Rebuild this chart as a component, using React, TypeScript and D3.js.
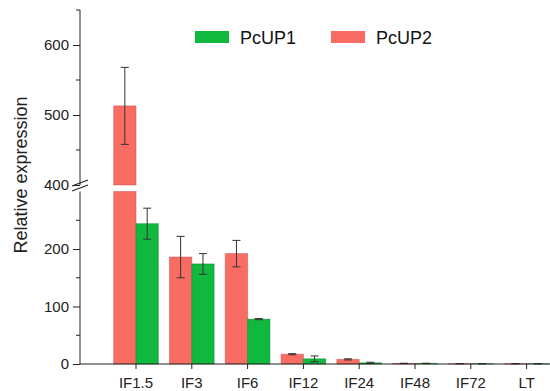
import React, { useEffect, useRef } from 'react';
import * as d3 from 'd3';

const categories = ['IF1.5', 'IF3', 'IF6', 'IF12', 'IF24', 'IF48', 'IF72', 'LT'];
const pcup1 = [244, 174, 78, 9, 2, 1, 0.5, 0.5];
const pcup1Err = [27, 18, 1, 5, 1, 0.3, 0.2, 0.2];
const pcup2 = [513, 186, 192, 17, 8, 1, 0.5, 0.5];
const pcup2Err = [55, 36, 23, 1, 1, 0.3, 0.2, 0.2];
const lowMajor = [0, 100, 200];
const lowMinor = [50, 150, 250];
const highMajor = [400, 500, 600];
const highMinor = [450, 550, 650];

const RED = '#f96c64';
const GREEN = '#10b83e';
const FONT = 'Liberation Sans, Arial, sans-serif';

const App = () => {
  const ref = useRef<SVGSVGElement>(null);

  useEffect(() => {
    const svg = d3.select(ref.current);
    svg.selectAll('*').remove();

    const axisX = 80;
    const x = d3.scaleBand<string>().domain(categories).range([108.1, 554.5]).padding(0);
    const yLow = d3.scaleLinear().domain([0, 300]).range([364, 191.5]);
    const yHigh = d3.scaleLinear().domain([400, 650]).range([185, 10]);
    const yv = (v: number) => (v > 350 ? yHigh(v) : yLow(v));
    const bw = x.bandwidth() * 0.4;

    // y axes (lower + upper segment)
    const drawY = (scale: d3.ScaleLinear<number, number>, major: number[], minor: number[]) => {
      const g = svg.append('g').attr('transform', `translate(${axisX},0)`);
      g.call(d3.axisLeft(scale).tickValues(major).tickSize(7).tickSizeOuter(0).tickPadding(4))
        .call(s => s.select('.domain').remove());
      g.selectAll('text').style('font-family', FONT).style('font-size', '15px').attr('fill', '#222');
      g.selectAll('line').attr('stroke', '#222');
      minor.forEach(m => {
        g.append('line').attr('x1', -4).attr('x2', 0).attr('y1', scale(m)).attr('y2', scale(m)).attr('stroke', '#222');
      });
      g.append('line').attr('x1', 0).attr('x2', 0).attr('y1', scale.range()[0]).attr('y2', scale.range()[1]).attr('stroke', '#222');
    };
    drawY(yLow, lowMajor, lowMinor);
    drawY(yHigh, highMajor, highMinor);

    // break marks
    [0, 5].forEach(o => {
      svg.append('line')
        .attr('x1', axisX - 8).attr('y1', 186 + o)
        .attr('x2', axisX + 8).attr('y2', 180 + o)
        .attr('stroke', '#222').attr('stroke-width', 1.2);
    });

    // bars
    const drawBar = (cx: number, v: number, color: string) => {
      const g = svg.append('g');
      const stroke = d3.color(color)!.darker(0.8).toString();
      if (v > 300) {
        g.append('rect').attr('x', cx).attr('width', bw).attr('y', yLow(300)).attr('height', yLow(0) - yLow(300))
          .attr('fill', color).attr('stroke', stroke).attr('stroke-opacity', 0.5);
        g.append('rect').attr('x', cx).attr('width', bw).attr('y', yHigh(v)).attr('height', yHigh(400) - yHigh(v))
          .attr('fill', color).attr('stroke', stroke).attr('stroke-opacity', 0.5);
      } else {
        g.append('rect').attr('x', cx).attr('width', bw).attr('y', yLow(v)).attr('height', yLow(0) - yLow(v))
          .attr('fill', color).attr('stroke', stroke).attr('stroke-opacity', 0.5);
      }
    };
    const drawErr = (cx: number, v: number, e: number) => {
      const g = svg.append('g').attr('stroke', '#333').attr('stroke-width', 1);
      const t = yv(v + e), b = yv(v - e);
      g.append('line').attr('x1', cx).attr('x2', cx).attr('y1', t).attr('y2', b);
      g.append('line').attr('x1', cx - 4).attr('x2', cx + 4).attr('y1', t).attr('y2', t);
      g.append('line').attr('x1', cx - 4).attr('x2', cx + 4).attr('y1', b).attr('y2', b);
    };
    categories.forEach((c, i) => {
      const center = x(c)! + x.bandwidth() / 2;
      drawBar(center - bw, pcup2[i], RED);
      drawBar(center, pcup1[i], GREEN);
    });
    categories.forEach((c, i) => {
      const center = x(c)! + x.bandwidth() / 2;
      drawErr(center - bw / 2, pcup2[i], pcup2Err[i]);
      drawErr(center + bw / 2, pcup1[i], pcup1Err[i]);
    });

    // x axis
    const gx = svg.append('g').attr('transform', 'translate(0,364)');
    gx.call(d3.axisBottom(x).tickSize(5).tickSizeOuter(0).tickPadding(8))
      .call(s => s.select('.domain').remove());
    gx.selectAll('text').style('font-family', FONT).style('font-size', '15px').attr('fill', '#222');
    gx.selectAll('line').attr('stroke', '#222');
    gx.append('line').attr('x1', axisX).attr('x2', 550).attr('y1', 0).attr('y2', 0).attr('stroke', '#222');

    // y label
    svg.append('text')
      .attr('transform', 'translate(27,175) rotate(-90)')
      .attr('text-anchor', 'middle')
      .style('font-family', FONT).style('font-size', '18px').attr('fill', '#222')
      .text('Relative expression');

    // legend
    const legend = [
      { name: 'PcUP1', color: GREEN, x: 195 },
      { name: 'PcUP2', color: RED, x: 331 },
    ];
    legend.forEach(l => {
      svg.append('rect').attr('x', l.x).attr('y', 31).attr('width', 34).attr('height', 12).attr('fill', l.color);
      svg.append('text').attr('x', l.x + 45).attr('y', 43.5)
        .style('font-family', FONT).style('font-size', '18px').attr('fill', '#111')
        .text(l.name);
    });
  }, []);

  return (
    <div className="App">
      <svg ref={ref} width={550} height={391} style={{ position: 'absolute', left: 0, top: 0, background: '#fff' }} />
    </div>
  );
};

export default App;
